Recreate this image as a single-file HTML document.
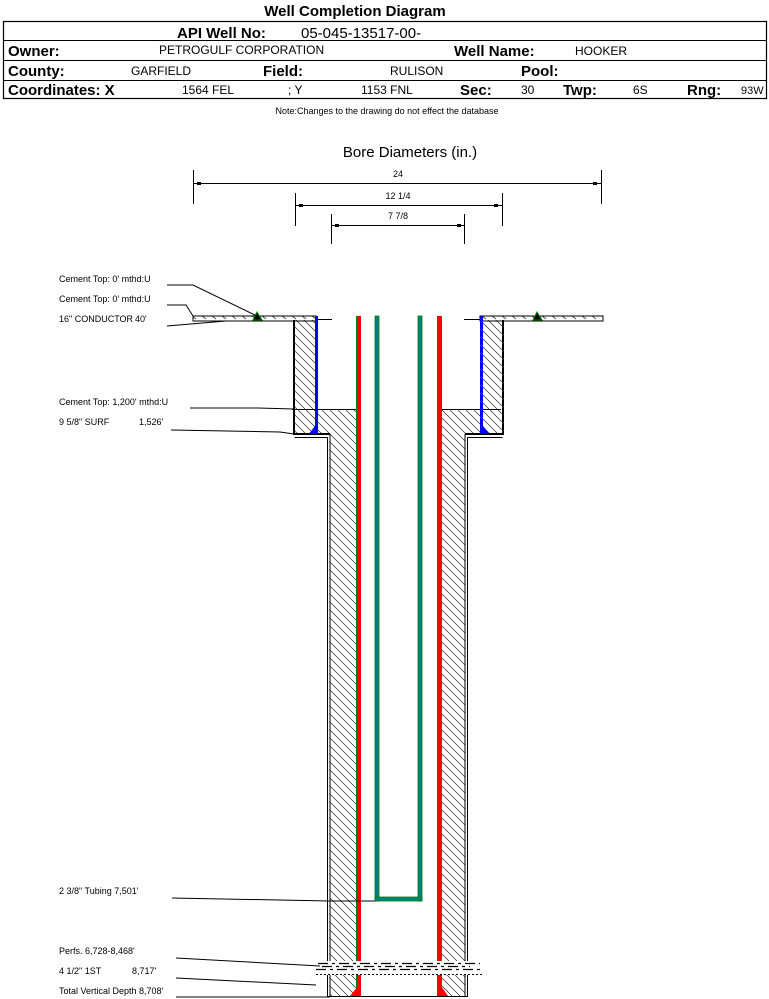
<!DOCTYPE html>
<html><head><meta charset="utf-8"><style>
html,body{margin:0;padding:0;background:#fff;}
svg{display:block;}
text{font-family:"Liberation Sans",sans-serif;}
</style></head><body>
<svg width="769" height="999" viewBox="0 0 769 999" xmlns="http://www.w3.org/2000/svg">
<defs>
<pattern id="h" patternUnits="userSpaceOnUse" width="8" height="8">
<path d="M-2,-2 L10,10 M-2,6 L2,10 M6,-2 L10,2" stroke="#000" stroke-width="0.6"/>
</pattern>
<pattern id="hp" patternUnits="userSpaceOnUse" width="10" height="5">
<path d="M2,1 L6,4" stroke="#000" stroke-width="0.7"/>
</pattern>
</defs>
<text x="355" y="16" font-size="15" font-weight="bold" text-anchor="middle">Well Completion Diagram</text>
<rect x="3.5" y="21.5" width="763" height="77" fill="none" stroke="#000" stroke-width="1.2"/>
<line x1="3" y1="40.5" x2="767" y2="40.5" stroke="#000"/>
<line x1="3" y1="60.5" x2="767" y2="60.5" stroke="#000"/>
<line x1="3" y1="80.5" x2="767" y2="80.5" stroke="#000"/>
<text x="177" y="38" font-size="15" font-weight="bold">API Well No:</text>
<text x="301" y="38" font-size="15">05-045-13517-00-</text>
<text x="8" y="56" font-size="15" font-weight="bold">Owner:</text>
<text x="159" y="54" font-size="12">PETROGULF CORPORATION</text>
<text x="454" y="56" font-size="15" font-weight="bold">Well Name:</text>
<text x="575" y="55" font-size="12">HOOKER</text>
<text x="8" y="76" font-size="15" font-weight="bold">County:</text>
<text x="131" y="75" font-size="12">GARFIELD</text>
<text x="263" y="76" font-size="15" font-weight="bold">Field:</text>
<text x="390" y="75" font-size="12">RULISON</text>
<text x="521" y="76" font-size="15" font-weight="bold">Pool:</text>
<text x="8" y="95" font-size="15" font-weight="bold">Coordinates: X</text>
<text x="182" y="94" font-size="12">1564 FEL</text>
<text x="288" y="94" font-size="12">; Y</text>
<text x="361" y="94" font-size="12">1153 FNL</text>
<text x="460" y="95" font-size="15" font-weight="bold">Sec:</text>
<text x="521" y="94" font-size="12">30</text>
<text x="563" y="95" font-size="15" font-weight="bold">Twp:</text>
<text x="633" y="94" font-size="12">6S</text>
<text x="687" y="95" font-size="15" font-weight="bold">Rng:</text>
<text x="741" y="94" font-size="11">93W</text>
<text x="387" y="114" font-size="9" text-anchor="middle">Note:Changes to the drawing do not effect the database</text>
<text x="410" y="157" font-size="15" text-anchor="middle">Bore Diameters (in.)</text>
<g stroke="#000" stroke-width="1">
<line x1="193.5" y1="170" x2="193.5" y2="204"/><line x1="601.5" y1="170" x2="601.5" y2="204"/>
<line x1="194" y1="183.5" x2="601" y2="183.5"/>
<line x1="295.5" y1="193" x2="295.5" y2="226"/><line x1="502.5" y1="193" x2="502.5" y2="226"/>
<line x1="296" y1="205.5" x2="502" y2="205.5"/>
<line x1="331.5" y1="214" x2="331.5" y2="244"/><line x1="464.5" y1="214" x2="464.5" y2="244"/>
<line x1="332" y1="225.5" x2="464" y2="225.5"/>
</g>
<g fill="#000">
<rect x="197" y="182" width="4" height="3"/><rect x="593" y="182" width="4" height="3"/>
<rect x="299" y="204" width="4" height="3"/><rect x="494" y="204" width="4" height="3"/>
<rect x="335" y="224" width="4" height="3"/><rect x="457" y="224" width="4" height="3"/>
</g>
<text x="398" y="177" font-size="9" text-anchor="middle">24</text>
<text x="398" y="199" font-size="9" text-anchor="middle">12 1/4</text>
<text x="398" y="219" font-size="9" text-anchor="middle">7 7/8</text>
<rect x="193" y="316" width="123" height="5" fill="url(#hp)" stroke="#000" stroke-width="1"/>
<rect x="480" y="316" width="123" height="5" fill="url(#hp)" stroke="#000" stroke-width="1"/>
<line x1="316" y1="319.5" x2="332" y2="319.5" stroke="#000"/>
<line x1="464" y1="319.5" x2="480" y2="319.5" stroke="#000"/>
<path d="M253,320 L257,312 L262,320 Z" fill="#000" stroke="#080" stroke-width="1"/>
<path d="M533,320 L537,312 L542,320 Z" fill="#000" stroke="#080" stroke-width="1"/>
<rect x="294" y="320" width="22" height="114" fill="url(#h)"/>
<rect x="481" y="320" width="22" height="114" fill="url(#h)"/>
<rect x="316" y="409" width="42" height="25" fill="url(#h)"/>
<rect x="441" y="409" width="40" height="25" fill="url(#h)"/>
<line x1="292" y1="409.5" x2="358" y2="409.5" stroke="#000"/>
<line x1="441" y1="409.5" x2="501" y2="409.5" stroke="#000"/>
<rect x="330" y="434" width="28" height="562" fill="url(#h)"/>
<rect x="441" y="434" width="24" height="562" fill="url(#h)"/>
<g stroke="#000" stroke-width="2" fill="none">
<path d="M294,320 L294,434 L330,434"/>
<path d="M503,320 L503,434 L465,434"/>
</g>
<g stroke="#000" stroke-width="1" fill="none">
<path d="M294.5,437.5 L327.5,437.5 L327.5,997"/>
<path d="M502.5,437.5 L467.5,437.5 L467.5,997"/>
<line x1="330" y1="434" x2="330" y2="997"/>
<line x1="465" y1="434" x2="465" y2="997"/>
<line x1="327" y1="996.5" x2="468" y2="996.5"/>
</g>
<rect x="315" y="316" width="3" height="118" fill="#0000ff"/>
<rect x="480" y="316" width="3" height="118" fill="#0000ff"/>
<path d="M309,434 L317,423 L317,434 Z" fill="#0000ff"/>
<path d="M481,423 L489,434 L481,434 Z" fill="#0000ff"/>
<rect x="357" y="316" width="4" height="680" fill="#ff0000"/>
<rect x="356" y="316" width="1" height="680" fill="#008000"/>
<rect x="437" y="316" width="4" height="680" fill="#ff0000"/>
<rect x="441" y="316" width="1" height="680" fill="#008000"/>
<path d="M350,996 L358,986 L358,996 Z" fill="#ff0000"/>
<path d="M441,986 L448,996 L441,996 Z" fill="#ff0000"/>
<rect x="375" y="316" width="4" height="585" fill="#008080" stroke="#008000" stroke-width="0.8"/>
<rect x="418" y="316" width="4" height="585" fill="#008080" stroke="#008000" stroke-width="0.8"/>
<rect x="375" y="897" width="47" height="4" fill="#008080" stroke="#008000" stroke-width="0.8"/>
<rect x="320" y="961" width="170" height="14" fill="#fff"/>
<g stroke="#000" stroke-width="1.2" stroke-dasharray="10,4,3,4">
<line x1="318" y1="963.5" x2="480" y2="963.5"/>
<line x1="322" y1="966.5" x2="470" y2="966.5"/>
<line x1="316" y1="969.5" x2="483" y2="969.5"/>
</g>
<g stroke="#000" stroke-width="1" stroke-dasharray="2,2">
<line x1="316" y1="974.5" x2="483" y2="974.5"/>
</g>
<g font-size="9">
<text x="59" y="282">Cement Top: 0' mthd:U</text>
<text x="59" y="302">Cement Top: 0' mthd:U</text>
<text x="59" y="322">16" CONDUCTOR</text><text x="135" y="322">40'</text>
<text x="59" y="405">Cement Top: 1,200' mthd:U</text>
<text x="59" y="425">9 5/8" SURF</text><text x="139" y="425">1,526'</text>
<text x="59" y="894">2 3/8" Tubing 7,501'</text>
<text x="59" y="954">Perfs. 6,728-8,468'</text>
<text x="59" y="974">4 1/2" 1ST</text><text x="132" y="974">8,717'</text>
<text x="59" y="994">Total Vertical Depth 8,708'</text>
</g>
<g stroke="#000" stroke-width="1" fill="none">
<polyline points="167,285 193,285 257,316"/>
<polyline points="167,305 186,305 193,316"/>
<polyline points="167,326 226,321"/>
<polyline points="190,408 258,408 294,409"/>
<polyline points="171,430 280,432 294,434"/>
<polyline points="172,898 330,901 375,901"/>
<polyline points="176,958 320,966"/>
<polyline points="176,978 316,985"/>
<polyline points="176,997 330,997"/>
</g>
</svg>
</body></html>
